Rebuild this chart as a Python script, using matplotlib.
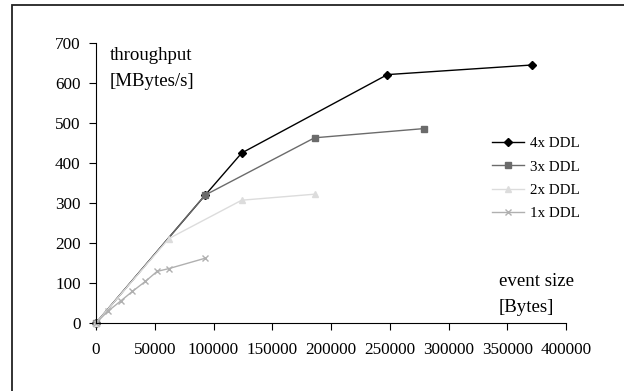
import matplotlib
matplotlib.use("Agg")
import matplotlib.pyplot as plt
from matplotlib.patches import Rectangle

plt.rcParams['font.family'] = ['Liberation Serif', 'DejaVu Serif']

x4 = [0, 93000, 124000, 248000, 371000]
y4 = [0, 320, 425, 621, 645]
x3 = [0, 93000, 186000, 279000]
y3 = [0, 320, 463, 486]
x2 = [0, 62000, 124000, 186000]
y2 = [0, 211, 307, 322]
x1 = [0, 10000, 21000, 31000, 42000, 52000, 62000, 93000]
y1 = [0, 29, 55, 79, 104, 129, 136, 162]
labels = ["4x DDL", "3x DDL", "2x DDL", "1x DDL"]
xticks = [0, 50000, 100000, 150000, 200000, 250000, 300000, 350000, 400000]
yticks = [0, 100, 200, 300, 400, 500, 600, 700]

fig = plt.figure(figsize=(6.24, 3.91), dpi=100)
# outer frame
fig.patches.append(Rectangle((11.5/624, -0.1), 1.2, (391-4.5)/391 + 0.1, transform=fig.transFigure,
                             fill=False, edgecolor='#222222', linewidth=1.3))
ax = fig.add_axes([96/624, (391-323)/391, 470/624, 280/391])
ax.plot(x4, y4, color='black', lw=1.0, marker='D', ms=4, label=labels[0], clip_on=False)
ax.plot(x3, y3, color='#6b6b6b', lw=1.0, marker='s', ms=5, label=labels[1], clip_on=False)
ax.plot(x2, y2, color='#dcdcdc', lw=1.0, marker='^', ms=5, label=labels[2], clip_on=False)
ax.plot(x1, y1, color='#b0b0b0', lw=1.0, marker='x', ms=5, label=labels[3], clip_on=False)

ax.set_xlim(0, 400000)
ax.set_ylim(0, 700)
ax.set_xticks(xticks)
ax.set_yticks(yticks)
ax.set_xticklabels([str(v) for v in xticks])
ax.set_yticklabels([str(v) for v in yticks])
ax.spines['top'].set_visible(False)
ax.spines['right'].set_visible(False)
for s in ('left', 'bottom'):
    ax.spines[s].set_linewidth(0.8)
ax.tick_params(axis='both', direction='out', length=5, width=0.8, labelsize=12.3)
ax.tick_params(axis='x', pad=9)
ax.tick_params(axis='y', pad=6)
ax.patch.set_alpha(0)

ax.text(0.030, 0.985, "throughput\n[MBytes/s]", transform=ax.transAxes, fontsize=13.6,
        va='top', ha='left', linespacing=1.65)
ax.text(0.857, 0.178, "event size\n[Bytes]", transform=ax.transAxes, fontsize=13.6,
        va='top', ha='left', linespacing=1.65)

leg = ax.legend(loc='upper left', bbox_to_anchor=(0.843, 0.665), frameon=False, fontsize=10.8,
                handlelength=2.1, handletextpad=0.4, labelspacing=0.65, borderaxespad=0,
                borderpad=0)

fig.savefig("out.png", dpi=100)
